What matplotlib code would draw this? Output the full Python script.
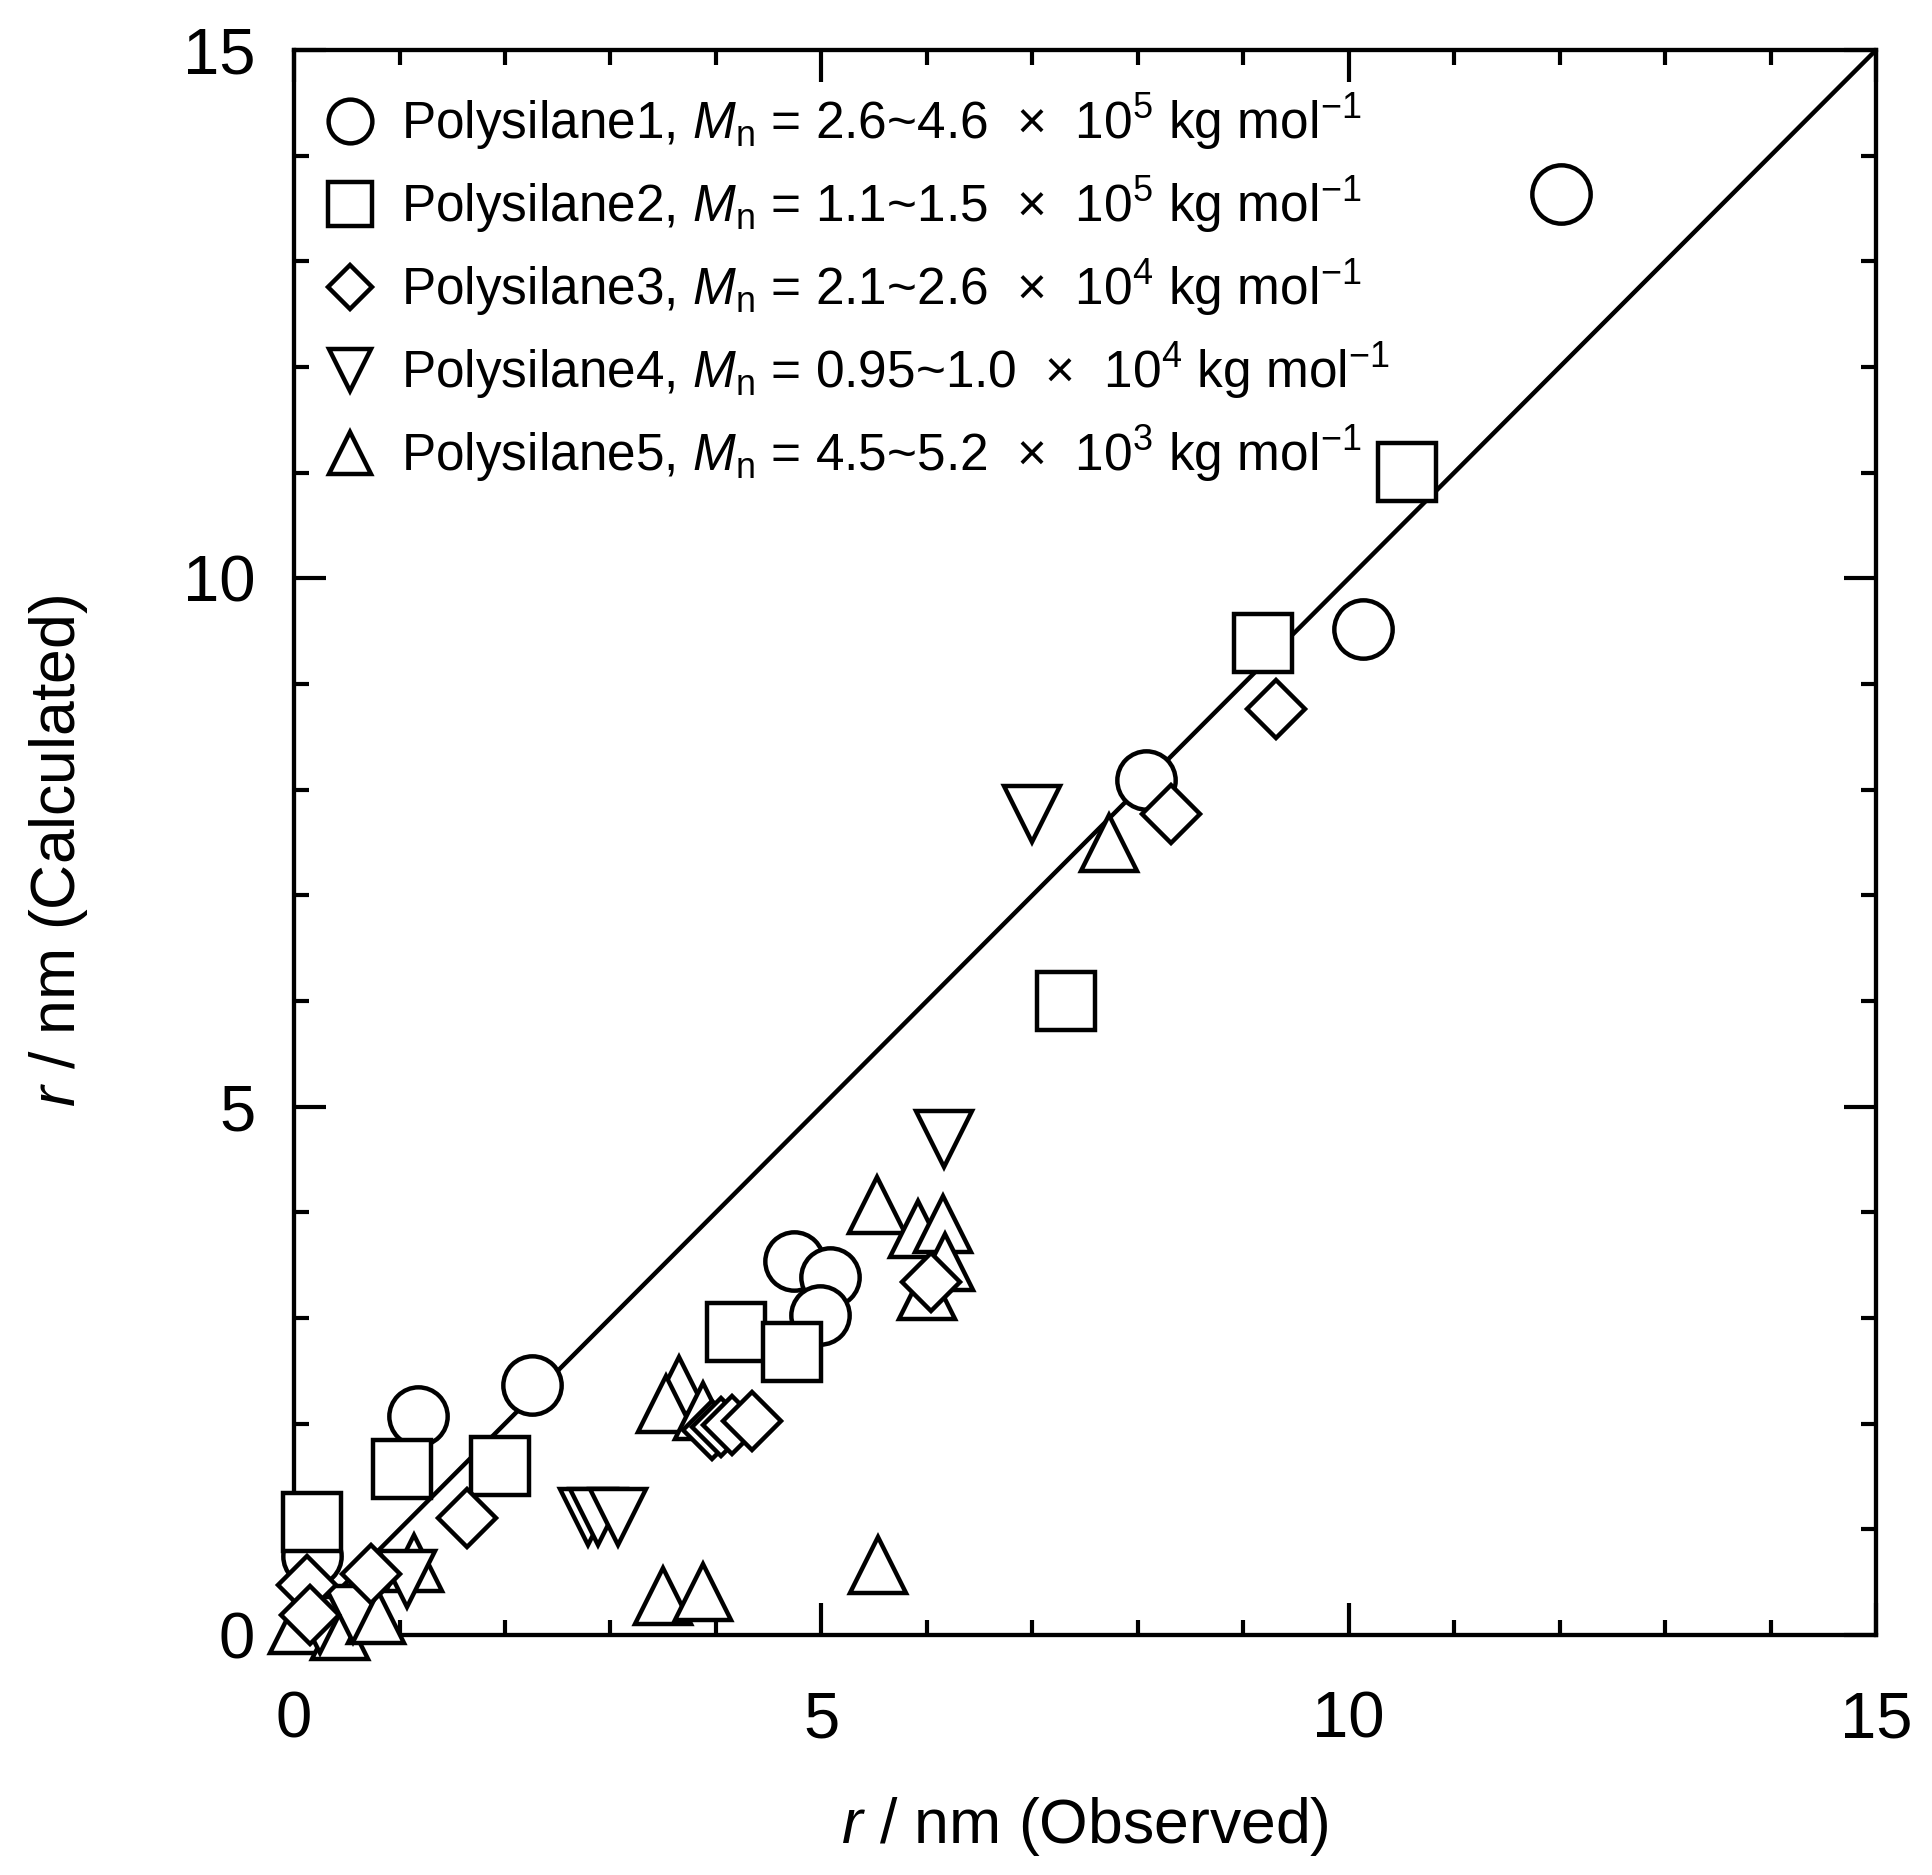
import matplotlib
matplotlib.use("Agg")
import matplotlib.pyplot as plt
from matplotlib.ticker import MultipleLocator

plt.rcParams['font.family'] = ['Liberation Sans', 'DejaVu Sans']
plt.rcParams['mathtext.fontset'] = 'custom'
plt.rcParams['mathtext.rm'] = 'Liberation Sans'
plt.rcParams['mathtext.it'] = 'Liberation Sans:italic'

# observed / calculated radius (nm)
p1_obs = [12.01, 10.14, 8.08, 4.74, 5.08, 4.99, 2.26, 1.18, 0.17]
p1_calc = [13.64, 9.52, 8.09, 3.54, 3.39, 3.03, 2.37, 2.07, 0.75]

p2_obs = [10.55, 9.19, 7.32, 4.19, 4.72, 1.95, 1.02, 0.17]
p2_calc = [11.01, 9.39, 6.00, 2.87, 2.68, 1.60, 1.57, 1.07]

p3_obs = [9.31, 8.32, 6.04, 3.96, 4.05, 4.15, 4.34, 1.64, 0.73, 0.12, 0.15]
p3_calc = [8.76, 7.77, 3.34, 1.94, 1.97, 1.99, 2.03, 1.11, 0.58, 0.47, 0.19]

p4_obs = [7.00, 6.16, 2.79, 2.88, 3.07, 1.07, 0.25, 0.56]
p4_calc = [7.77, 4.69, 1.12, 1.12, 1.12, 0.53, 0.09, 0.20]

p5_obs = [7.73, 5.53, 5.92, 6.15, 6.17, 6.00, 5.54, 3.50, 3.88,
          3.65, 3.53, 3.88, 1.14, 0.04, 0.44, 0.78]
p5_calc = [7.50, 4.07, 3.84, 3.89, 3.53, 3.26, 0.66, 0.37, 0.41,
           2.37, 2.19, 2.12, 0.68, 0.09, 0.04, 0.19]

labels = [
    r'Polysilane1, $M_{\mathrm{n}}$ = 2.6~4.6  $\times$  10$^{5}$ kg mol$^{-1}$',
    r'Polysilane2, $M_{\mathrm{n}}$ = 1.1~1.5  $\times$  10$^{5}$ kg mol$^{-1}$',
    r'Polysilane3, $M_{\mathrm{n}}$ = 2.1~2.6  $\times$  10$^{4}$ kg mol$^{-1}$',
    r'Polysilane4, $M_{\mathrm{n}}$ = 0.95~1.0  $\times$  10$^{4}$ kg mol$^{-1}$',
    r'Polysilane5, $M_{\mathrm{n}}$ = 4.5~5.2  $\times$  10$^{3}$ kg mol$^{-1}$',
]

fig = plt.figure(figsize=(19.32, 18.75), dpi=100)
ax = fig.add_axes([0.1522, 0.128, 0.8188, 0.8453])

ax.plot([0, 15], [0, 15], color='black', lw=3.2, zorder=2)

style = dict(linestyle='none', mfc='white', mec='black', mew=3.2, clip_on=False)
h1, = ax.plot(p1_obs, p1_calc, 'o', ms=42, zorder=4, **style)
h2, = ax.plot(p2_obs, p2_calc, 's', ms=42, zorder=5, **style)
h5, = ax.plot(p5_obs, p5_calc, '^', ms=41, zorder=6, **style)
h4, = ax.plot(p4_obs, p4_calc, 'v', ms=41, zorder=7, **style)
h3, = ax.plot(p3_obs, p3_calc, 'D', ms=30, zorder=8, **style)

ax.set_xlim(0, 15)
ax.set_ylim(0, 15)
ax.xaxis.set_major_locator(MultipleLocator(5))
ax.yaxis.set_major_locator(MultipleLocator(5))
ax.xaxis.set_minor_locator(MultipleLocator(1))
ax.yaxis.set_minor_locator(MultipleLocator(1))
ax.tick_params(which='both', direction='in', top=True, right=True, width=3)
ax.tick_params(which='major', length=23, labelsize=47)
ax.tick_params(axis='x', which='major', pad=40)
ax.tick_params(axis='y', which='major', pad=28)
ax.tick_params(which='minor', length=11)
for s in ax.spines.values():
    s.set_linewidth(3.1)

ax.set_xlabel(r'$r$ / nm (Observed)', fontsize=45)
ax.set_ylabel(r'$r$ / nm (Calculated)', fontsize=45)
ax.xaxis.set_label_coords(0.5, -0.121)
ax.xaxis.label.set_va('center')
ax.yaxis.set_label_coords(-0.149, 0.495)
ax.yaxis.label.set_va('center')

ax.legend([h1, h2, h3, h4, h5], labels, loc='upper left',
          bbox_to_anchor=(0.0224, 0.974), borderaxespad=0, borderpad=0,
          frameon=False, fontsize=37, markerscale=0.75, handlelength=0.8,
          handletextpad=0.6, labelspacing=0.42, numpoints=1)

fig.savefig('out.png', dpi=100)
